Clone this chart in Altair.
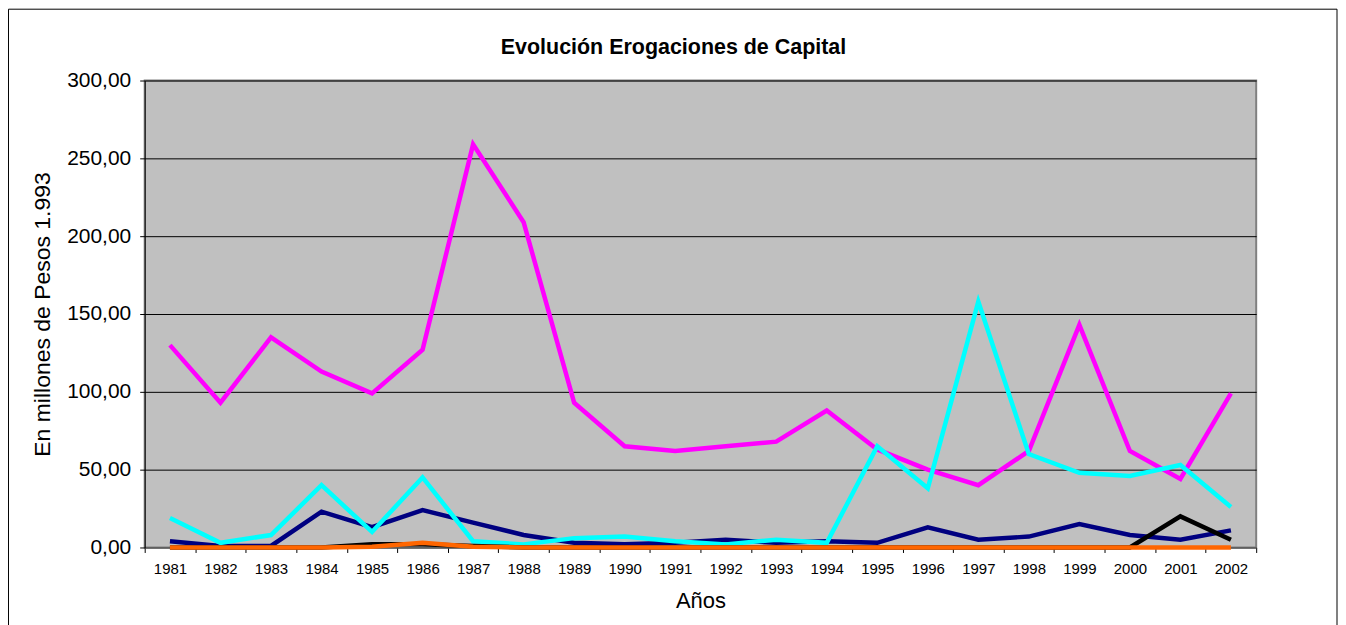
import altair as alt
import pandas as pd

years = [str(y) for y in range(1981, 2003)]

serie_magenta = [130, 93, 135, 113, 99, 127, 259, 209, 93, 65, 62, 65, 68, 88, 63, 50, 40, 62, 143, 62, 44, 99]
serie_navy = [4, 1, 1, 23, 13, 24, 16, 8, 3, 2, 3, 5, 3, 4, 3, 13, 5, 7, 15, 8, 5, 11]
serie_cyan = [19, 3, 8, 40, 10, 45, 4, 2, 6, 7, 4, 2, 5, 3, 65, 38, 158, 60, 48, 46, 53, 26]
serie_black = [0, 0, 0, 0, 2, 2, 1, 0, 0, 0, 0, 0, 0, 0, 0, 0, 0, 0, 0, 0, 20, 5]
serie_orange = [0, 0, 0, 0, 0.5, 3, 0.5, 0, 0, 0, 0, 0, 0, 0, 0, 0, 0, 0, 0, 0, 0, 0]

series = [
    ("Serie 1", serie_magenta, "#FF00FF"),
    ("Serie 2", serie_navy, "#000080"),
    ("Serie 3", serie_cyan, "#00FFFF"),
    ("Serie 4", serie_black, "#000000"),
    ("Serie 5", serie_orange, "#FF6600"),
]

title_text = "Evolución Erogaciones de Capital"

rows = []
for name, vals, _ in series:
    for y, v in zip(years, vals):
        rows.append({"Año": y, "valor": v, "serie": name})
df = pd.DataFrame(rows)

x_enc = alt.X(
    "Año:O",
    sort=years,
    bandPosition=0.5,
    scale=alt.Scale(type="band", paddingInner=0, paddingOuter=0),
    axis=alt.Axis(
        title="Años",
        labelAngle=0,
        tickBand="extent",
        labelFontSize=15,
        labelPadding=9,
        titleFontSize=22,
        titleFontWeight="normal",
        titlePadding=14,
        tickColor="black",
        domainColor="#808080",
        labelColor="black",
        titleColor="black",
        tickSize=5,
        grid=False,
    ),
)
y_enc = alt.Y(
    "valor:Q",
    scale=alt.Scale(domain=[0, 300], nice=False),
    axis=alt.Axis(
        title="En millones de Pesos 1.993",
        values=[0, 50, 100, 150, 200, 250, 300],
        labelExpr="replace(format(datum.value, '.2f'), '.', ',')",
        labelFontSize=21,
        labelPadding=9,
        titleFontSize=23,
        titleFontWeight="normal",
        titlePadding=12,
        tickColor="black",
        tickSize=5,
        domainColor="black",
        labelColor="black",
        titleColor="black",
        grid=True,
        gridColor="black",
        gridWidth=1,
    ),
)

layers = []
for name, _, color in series:
    layers.append(
        alt.Chart(df)
        .transform_filter(alt.datum.serie == name)
        .mark_line(strokeWidth=4.5, color=color)
        .encode(x=x_enc, y=y_enc)
    )

one = pd.DataFrame({"t": [title_text]})

border = (
    alt.Chart(one)
    .mark_rect(fill=None, stroke="black", strokeWidth=1)
    .encode(
        x=alt.value(-136.5),
        x2=alt.value(1195),
        y=alt.value(-71.5),
        y2=alt.value(570),
    )
)

title = (
    alt.Chart(one)
    .mark_text(fontSize=21.5, fontWeight="bold", font="Liberation Sans", color="black",
               align="center", baseline="middle")
    .encode(text="t:N", x=alt.value(530), y=alt.value(-33))
)

chart = (
    alt.layer(*layers, border, title)
    .properties(
        width=1114,
        height=468,
        autosize=alt.AutoSizeParams(type="none"),
        padding={"left": 137, "top": 72, "right": 82, "bottom": 77},
    )
    .configure(font="Liberation Sans")
    .configure_view(fill="#C0C0C0", stroke="#808080", strokeWidth=2)
    .configure_axis(labelFont="Liberation Sans", titleFont="Liberation Sans")
)

chart.save("out.html", embed_options={"renderer": "svg", "actions": False})
